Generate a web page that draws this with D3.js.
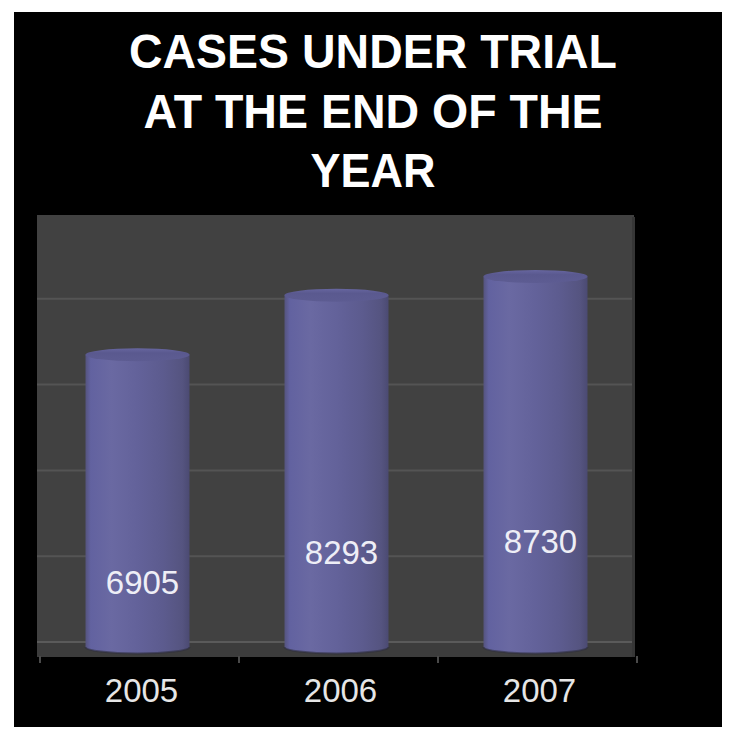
<!DOCTYPE html>
<html><head><meta charset="utf-8">
<script src="https://cdn.jsdelivr.net/npm/d3@7"></script>
<style>html,body{margin:0;padding:0;background:#fff;} svg{display:block}</style>
</head><body>
<svg id="c" width="731" height="739"></svg>
<script>
const titleLines = ["CASES UNDER TRIAL", "AT THE END OF THE", "YEAR"];
const titleWidths = [488, 459, 125];
const categories = ["2005", "2006", "2007"];
const values = [6905, 8293, 8730];
const labelLevels = [1610, 2310, 2565];
const gridValues = [0, 2000, 4000, 6000, 8000];
const yDomain = [0, 10000];

const svg = d3.select("#c");

// black panel
svg.append("rect").attr("x", 14).attr("y", 12).attr("width", 708).attr("height", 715).attr("fill", "#000");

// title
svg.append("g").selectAll("text").data(titleLines).join("text")
  .attr("x", 373).attr("y", (d, i) => 68 + i * 59.5)
  .attr("text-anchor", "middle")
  .attr("font-family", "'Liberation Sans', Arial, sans-serif")
  .attr("font-weight", "bold").attr("font-size", 49)
  .attr("textLength", (d, i) => titleWidths[i])
  .attr("lengthAdjust", "spacingAndGlyphs")
  .attr("fill", "#fff").text(d => d);

const x = d3.scaleBand().domain(categories).range([38, 635]).paddingInner(0).paddingOuter(0);
const y = d3.scaleLinear().domain(yDomain).range([642, 213]);

// plot background (back wall + floor)
svg.append("rect").attr("x", 37).attr("y", 215).attr("width", 597).attr("height", 442).attr("fill", "#414141");
svg.append("rect").attr("x", 37).attr("y", y(0)).attr("width", 597).attr("height", 657 - y(0)).attr("fill", "#3c3c3c");
svg.append("rect").attr("x", 632).attr("y", 217).attr("width", 3).attr("height", 440).attr("fill", "#363636");

// gridlines
svg.append("g").selectAll("line").data(gridValues).join("line")
  .attr("x1", 37).attr("x2", 632)
  .attr("y1", d => y(d)).attr("y2", d => y(d))
  .attr("stroke", d => d === 0 ? "#5a5a5a" : "#545454").attr("stroke-width", 2);

// ticks at category boundaries
const bounds = categories.map(c => x(c)).concat([x.range()[1]]);
svg.append("g").selectAll("line").data(bounds).join("line")
  .attr("x1", d => d + 2).attr("x2", d => d + 2)
  .attr("y1", 656).attr("y2", 663)
  .attr("stroke", "#4a4a4a").attr("stroke-width", 2);

// gradient
const defs = svg.append("defs");
const g = defs.append("linearGradient").attr("id", "cyl").attr("x1", "0").attr("x2", "1").attr("y1", "0").attr("y2", "0");
[[0, "#55547f"], [0.05, "#6262a0"], [0.25, "#6a69a2"], [0.5, "#63629a"], [0.75, "#5c5b8e"], [0.93, "#555480"], [1, "#4b4a72"]]
  .forEach(([o, c]) => g.append("stop").attr("offset", o).attr("stop-color", c));
const gt = defs.append("linearGradient").attr("id", "cyltop").attr("x1", "0").attr("x2", "0").attr("y1", "0").attr("y2", "1");
[[0, "#6766a0"], [0.35, "#5a598f"], [1, "#5d5c92"]]
  .forEach(([o, c]) => gt.append("stop").attr("offset", o).attr("stop-color", c));

const bw = 104, ry = 6.5, dTop = 9, dBot = 5;
const data = categories.map((c, i) => ({ c, v: values[i], lv: labelLevels[i] }));
const bars = svg.append("g").selectAll("g").data(data).join("g");

bars.append("path")
  .attr("d", d => {
    const cx = x(d.c) + x.bandwidth() / 2, l = cx - bw / 2, r = cx + bw / 2;
    const yt = y(d.v) + dTop, yb = y(0) + dBot;
    return `M${l},${yt} L${l},${yb} A${bw / 2},${ry} 0 0 0 ${r},${yb} L${r},${yt} Z`;
  })
  .attr("fill", "url(#cyl)");

// bottom shadow edge
bars.append("path")
  .attr("d", d => {
    const cx = x(d.c) + x.bandwidth() / 2, l = cx - bw / 2, r = cx + bw / 2;
    const yb = y(0) + dBot;
    return `M${l},${yb} A${bw / 2},${ry} 0 0 0 ${r},${yb}`;
  })
  .attr("fill", "none").attr("stroke", "#2e2e3e").attr("stroke-width", 2).attr("opacity", 0.6);

bars.append("ellipse")
  .attr("cx", d => x(d.c) + x.bandwidth() / 2)
  .attr("cy", d => y(d.v) + dTop)
  .attr("rx", bw / 2).attr("ry", ry)
  .attr("fill", "url(#cyltop)");

// value labels
bars.append("text")
  .attr("x", d => x(d.c) + x.bandwidth() / 2 + 5)
  .attr("y", d => y(d.lv) + dTop + 12)
  .attr("text-anchor", "middle")
  .attr("font-family", "'Liberation Sans', Arial, sans-serif")
  .attr("font-size", 33).attr("fill", "#eeeef6")
  .text(d => d.v);

// category labels
svg.append("g").selectAll("text").data(categories).join("text")
  .attr("x", d => x(d) + x.bandwidth() / 2 + 4)
  .attr("y", 702)
  .attr("text-anchor", "middle")
  .attr("font-family", "'Liberation Sans', Arial, sans-serif")
  .attr("font-size", 33).attr("fill", "#e6e6e6")
  .text(d => d);
</script>
</body></html>
